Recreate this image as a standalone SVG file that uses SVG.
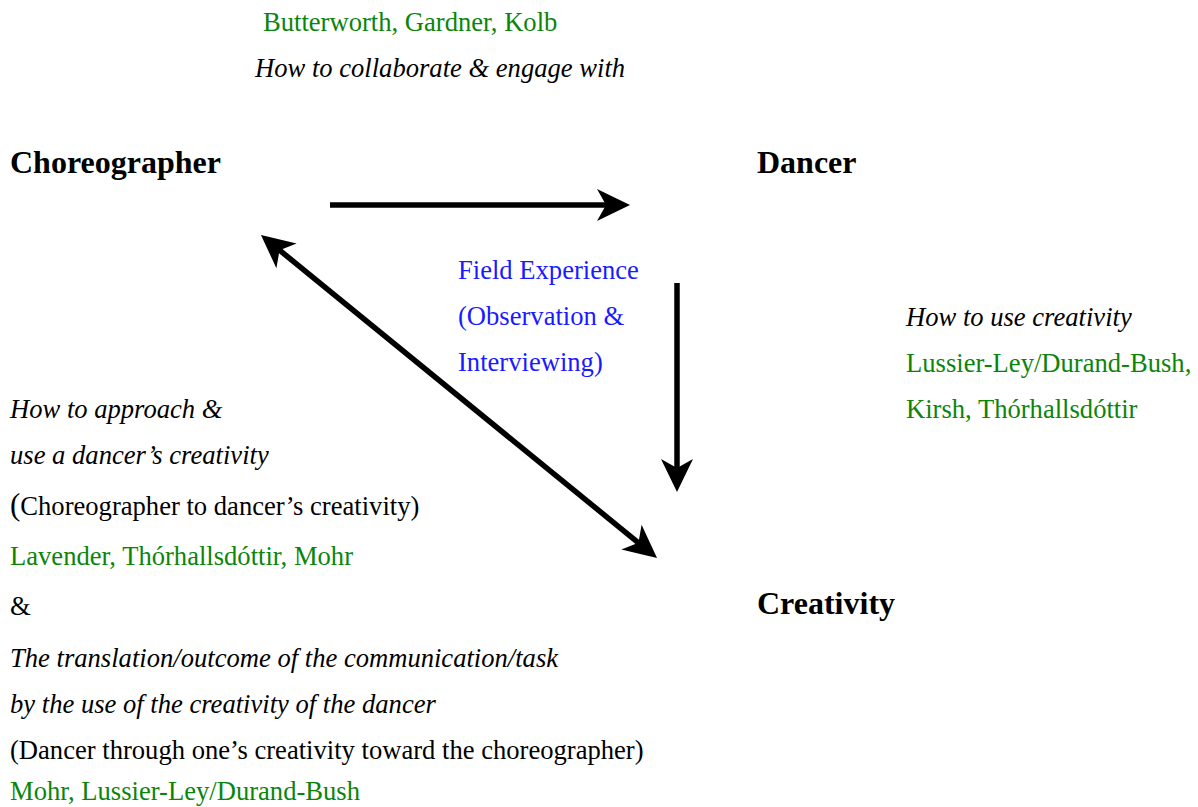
<svg xmlns="http://www.w3.org/2000/svg" width="1198" height="807" viewBox="0 0 1198 807">
<style>
text{font-family:"Liberation Serif","Times New Roman",serif;font-size:26.6px;fill:#000}
.b{font-weight:bold;font-size:32px}
.i{font-style:italic}
.g{fill:#0a850a}
.bl{fill:#1a1aff}
.c{stroke:#000;stroke-width:5.5;fill:none}
</style>
<defs>
<marker id="ah" markerUnits="userSpaceOnUse" viewBox="-36 -18 38 36" refX="-22" refY="0" markerWidth="38" markerHeight="36" orient="auto-start-reverse">
<path d="M0,0 L-33,-16 L-24,0 L-33,16 Z" fill="#000"/>
</marker>
</defs>
<rect width="1198" height="807" fill="#fff"/>
<g id="connectors">
<line class="c" x1="330" y1="205" x2="608" y2="205" marker-end="url(#ah)"/>
<line class="c" x1="677" y1="283" x2="677" y2="470" marker-end="url(#ah)"/>
<line class="c" x1="278" y1="248.9" x2="640" y2="544.1" marker-start="url(#ah)" marker-end="url(#ah)"/>
</g>
<g id="top-label">
<text x="263" y="31" class="g">Butterworth, Gardner, Kolb</text>
<text x="255" y="77" class="i">How to collaborate &amp; engage with</text>
</g>
<g id="node-choreographer"><text x="10" y="173" class="b">Choreographer</text></g>
<g id="node-dancer"><text x="757" y="173" class="b">Dancer</text></g>
<g id="node-creativity"><text x="757" y="614" class="b">Creativity</text></g>
<g id="field-label">
<text x="458" y="279" class="bl">Field Experience</text>
<text x="458" y="325" class="bl">(Observation &amp;</text>
<text x="458" y="371" class="bl">Interviewing)</text>
</g>
<g id="right-label">
<text x="906" y="326" class="i">How to use creativity</text>
<text x="906" y="372" class="g">Lussier-Ley/Durand-Bush,</text>
<text x="906" y="418" class="g">Kirsh, Thórhallsdóttir</text>
</g>
<g id="left-label">
<text x="10" y="418" class="i">How to approach &amp;</text>
<text x="10" y="464" class="i">use a dancer’s creativity</text>
<text x="10" y="515"><tspan font-size="31">(</tspan>Choreographer to dancer’s creativity)</text>
<text x="10" y="565" class="g">Lavender, Thórhallsdóttir, Mohr</text>
<text x="10" y="615">&amp;</text>
<text x="10" y="667" class="i">The translation/outcome of the communication/task</text>
<text x="10" y="713" class="i">by the use of the creativity of the dancer</text>
<text x="10" y="759">(Dancer through one’s creativity toward the choreographer)</text>
<text x="10" y="800" class="g">Mohr, Lussier-Ley/Durand-Bush</text>
</g>
</svg>
